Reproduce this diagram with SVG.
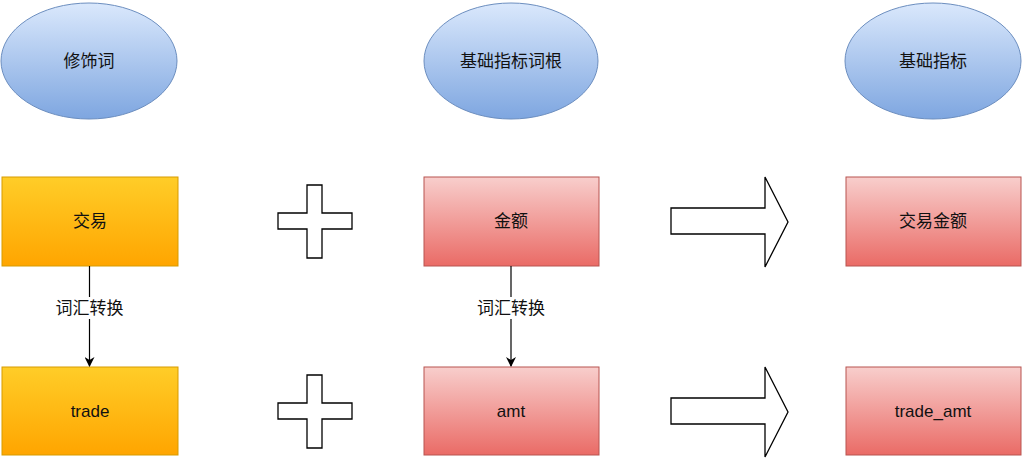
<svg xmlns="http://www.w3.org/2000/svg" width="1025" height="459" viewBox="0 0 1025 459">
<defs>
<linearGradient id="gBlue" x1="0" y1="0" x2="0" y2="1"><stop offset="0" stop-color="#dae8fc"/><stop offset="1" stop-color="#7ea6e0"/></linearGradient>
<linearGradient id="gOrange" x1="0" y1="0" x2="0" y2="1"><stop offset="0" stop-color="#ffcd28"/><stop offset="1" stop-color="#ffa500"/></linearGradient>
<linearGradient id="gRed" x1="0" y1="0" x2="0" y2="1"><stop offset="0" stop-color="#f8cecc"/><stop offset="1" stop-color="#ea6b66"/></linearGradient>
<marker id="arr" viewBox="0 0 10 10" refX="9" refY="5" markerWidth="10" markerHeight="10" markerUnits="userSpaceOnUse" orient="auto"><path d="M0,0 L10,5 L0,10 L3,5 Z" fill="#000"/></marker>
<style>
.ell{fill:url(#gBlue);stroke:#6c8ebf;stroke-width:1}
.org{fill:url(#gOrange);stroke:#d79b00;stroke-width:1}
.red{fill:url(#gRed);stroke:#b85450;stroke-width:1}
.shape{fill:#fff;stroke:#000;stroke-width:1.3}
.t{font-family:"Liberation Sans","Noto Sans CJK SC",sans-serif;font-size:17px;fill:#111;text-anchor:middle;dominant-baseline:central}
.lbl{font-family:"Liberation Sans","Noto Sans CJK SC",sans-serif;font-size:17px;fill:#111;text-anchor:middle;dominant-baseline:central}
.edge{stroke:#000;stroke-width:1.2;fill:none}
</style>
</defs>
<g id="e-modifier"><ellipse class="ell" cx="89" cy="61" rx="88" ry="58"/><text class="t" x="89" y="61">修饰词</text></g>
<g id="e-root"><ellipse class="ell" cx="511" cy="61" rx="87" ry="58"/><text class="t" x="511" y="61">基础指标词根</text></g>
<g id="e-basic"><ellipse class="ell" cx="933" cy="61" rx="88" ry="58"/><text class="t" x="933" y="61">基础指标</text></g>
<g id="n-jiaoyi"><rect class="org" x="2" y="177" width="176" height="89"/><text class="t" x="90" y="221">交易</text></g>
<g id="n-trade"><rect class="org" x="2" y="367" width="176" height="88"/><text class="t" x="90" y="411">trade</text></g>
<g id="n-jine"><rect class="red" x="424" y="177" width="175" height="89"/><text class="t" x="511" y="221">金额</text></g>
<g id="n-amt"><rect class="red" x="424" y="367" width="175" height="88"/><text class="t" x="511" y="411">amt</text></g>
<g id="n-jyje"><rect class="red" x="846" y="177" width="175" height="89"/><text class="t" x="933" y="221">交易金额</text></g>
<g id="n-tradeamt"><rect class="red" x="846" y="367" width="175" height="88"/><text class="t" x="933" y="411">trade_amt</text></g>
<g id="plus1"><path class="shape" d="M307,185 H322 V213 H352 V229 H322 V258 H307 V229 H278 V213 H307 Z"/></g>
<g id="plus2"><path class="shape" d="M307,375 H322 V403 H352 V419 H322 V448 H307 V419 H278 V403 H307 Z"/></g>
<g id="arrow1"><path class="shape" d="M671,208 H765 V177 L788,222 L765,267 V234 H671 Z"/></g>
<g id="arrow2"><path class="shape" d="M671,398 H765 V367 L788,412 L765,457 V424 H671 Z"/></g>
<g id="connectors">
<line class="edge" x1="89.5" y1="266" x2="89.5" y2="366" marker-end="url(#arr)"/>
<rect x="55" y="297" width="70" height="22" fill="#fff"/>
<text class="lbl" x="89.5" y="308">词汇转换</text>
<line class="edge" x1="511" y1="266" x2="511" y2="366" marker-end="url(#arr)"/>
<rect x="476" y="297" width="70" height="22" fill="#fff"/>
<text class="lbl" x="511" y="308">词汇转换</text>
</g>
</svg>
